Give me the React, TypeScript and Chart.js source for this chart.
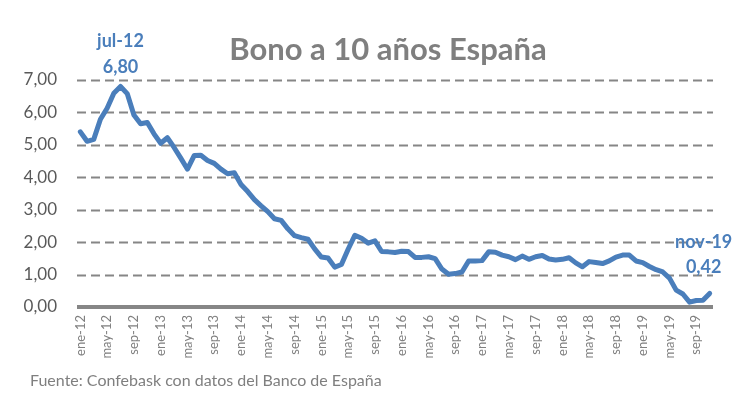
import React, { useEffect, useRef } from "react";
import { Chart, registerables } from "chart.js";

Chart.register(...registerables);

const MONTHS = ["ene", "feb", "mar", "abr", "may", "jun", "jul", "ago", "sep", "oct", "nov", "dic"];
const YEARS = ["12", "13", "14", "15", "16", "17", "18", "19"];
const LAST_MONTH_2019 = 11; // nov-19

const V2012 = [5.40, 5.11, 5.17, 5.79, 6.13, 6.59, 6.80, 6.58, 5.92, 5.65, 5.69, 5.34];
const V2013 = [5.05, 5.22, 4.92, 4.59, 4.25, 4.67, 4.68, 4.52, 4.43, 4.25, 4.11, 4.14];
const V2014 = [3.78, 3.56, 3.31, 3.12, 2.94, 2.72, 2.67, 2.41, 2.20, 2.14, 2.09, 1.79];
const V2015 = [1.54, 1.51, 1.23, 1.31, 1.78, 2.21, 2.12, 1.97, 2.04, 1.71, 1.70, 1.68];
const V2016 = [1.72, 1.71, 1.53, 1.53, 1.55, 1.49, 1.17, 1.01, 1.03, 1.08, 1.42, 1.42];
const V2017 = [1.43, 1.70, 1.69, 1.60, 1.55, 1.46, 1.57, 1.47, 1.55, 1.59, 1.48, 1.45];
const V2018 = [1.47, 1.52, 1.36, 1.24, 1.40, 1.37, 1.34, 1.42, 1.54, 1.60, 1.60, 1.42];
const V2019 = [1.37, 1.25, 1.15, 1.08, 0.89, 0.52, 0.40, 0.15, 0.20, 0.21, 0.42];

const VALUES = [...V2012, ...V2013, ...V2014, ...V2015, ...V2016, ...V2017, ...V2018, ...V2019];

const LABELS: string[] = [];
YEARS.forEach((y, yi) => {
  const n = yi === YEARS.length - 1 ? LAST_MONTH_2019 : 12;
  for (let m = 0; m < n; m++) LABELS.push(`${MONTHS[m]}-${y}`);
});

const Y_TICKS = [0, 1, 2, 3, 4, 5, 6, 7];
const TITLE = "Bono a 10 años España";
const SOURCE = "Fuente: Confebask con datos del Banco de España";
const PEAK_INDEX = 6;
const LAST_INDEX = VALUES.length - 1;

const fmt = (v: number) => v.toFixed(2).replace(".", ",");

const FONT = "Lato, 'Open Sans', sans-serif";
const BLUE = "#4a7ebb";

export default function App() {
  const ref = useRef<HTMLCanvasElement | null>(null);

  useEffect(() => {
    if (!ref.current) return;

    const decor = {
      id: "decor",
      beforeDatasetsDraw(chart: any) {
        const { ctx, chartArea, scales } = chart;
        const y = scales.y;
        ctx.save();
        ctx.strokeStyle = "#868686";
        ctx.lineWidth = 2;
        ctx.setLineDash([9, 5]);
        Y_TICKS.forEach((t) => {
          if (t === 0) return;
          const py = Math.round(y.getPixelForValue(t)) + 0.5;
          ctx.beginPath();
          ctx.moveTo(chartArea.left, py);
          ctx.lineTo(chartArea.right, py);
          ctx.stroke();
        });
        ctx.setLineDash([]);
        ctx.lineWidth = 4;
        const p0 = y.getPixelForValue(0);
        ctx.beginPath();
        ctx.moveTo(chartArea.left, p0);
        ctx.lineTo(chartArea.right, p0);
        ctx.stroke();
        ctx.restore();
      },
      afterDraw(chart: any) {
        const { ctx } = chart;
        const meta = chart.getDatasetMeta(0);
        ctx.save();
        ctx.textAlign = "center";
        ctx.textBaseline = "middle";
        ctx.fillStyle = "#7f7f7f";
        ctx.font = `bold 31px ${FONT}`;
        ctx.fillText(TITLE, 388, 50);

        ctx.fillStyle = BLUE;
        ctx.font = `bold 18px ${FONT}`;
        const pk = meta.data[PEAK_INDEX];
        ctx.fillText(LABELS[PEAK_INDEX], pk.x, pk.y - 45);
        ctx.fillText(fmt(VALUES[PEAK_INDEX]), pk.x, pk.y - 19);
        const ls = meta.data[LAST_INDEX];
        ctx.fillText(LABELS[LAST_INDEX], ls.x - 6, ls.y - 51);
        ctx.fillText(fmt(VALUES[LAST_INDEX]), ls.x - 6, ls.y - 26);

        ctx.textAlign = "left";
        ctx.fillStyle = "#7f7f7f";
        ctx.font = `16px ${FONT}`;
        ctx.fillText(SOURCE, 30, 381);
        ctx.restore();
      },
    };

    const chart = new Chart(ref.current, {
      type: "line",
      data: {
        labels: LABELS,
        datasets: [
          {
            data: VALUES,
            borderColor: BLUE,
            borderWidth: 5,
            pointRadius: 0,
            tension: 0,
            borderJoinStyle: "round",
            borderCapStyle: "round",
            fill: false,
          },
        ],
      },
      options: {
        animation: false,
        responsive: true,
        maintainAspectRatio: false,
        layout: { padding: { top: 80, right: 40, bottom: 32, left: 0 } },
        plugins: { legend: { display: false }, tooltip: { enabled: false }, title: { display: false } },
        scales: {
          x: {
            offset: true,
            grid: { display: false, drawTicks: false },
            border: { display: false },
            afterFit: (s: any) => {
              s.height = 60;
            },
            ticks: {
              autoSkip: false,
              maxRotation: 90,
              minRotation: 90,
              padding: 8,
              color: "#808080",
              font: { family: FONT, size: 13 },
              callback: (_v: any, i: number) => (i % 4 === 0 ? LABELS[i] : ""),
            },
          },
          y: {
            min: 0,
            max: 7,
            grid: { display: false, drawTicks: false },
            border: { display: false },
            afterFit: (s: any) => {
              s.width = 77;
            },
            ticks: {
              stepSize: 1,
              padding: 20,
              color: "#595959",
              font: { family: FONT, size: 17 },
              callback: (v: any) => fmt(Number(v)),
            },
          },
        },
      },
      plugins: [decor],
    });
    return () => chart.destroy();
  }, []);

  return (
    <div style={{ position: "absolute", left: 0, top: 0, width: 753, height: 399, background: "#fff" }}>
      <canvas ref={ref} />
    </div>
  );
}
